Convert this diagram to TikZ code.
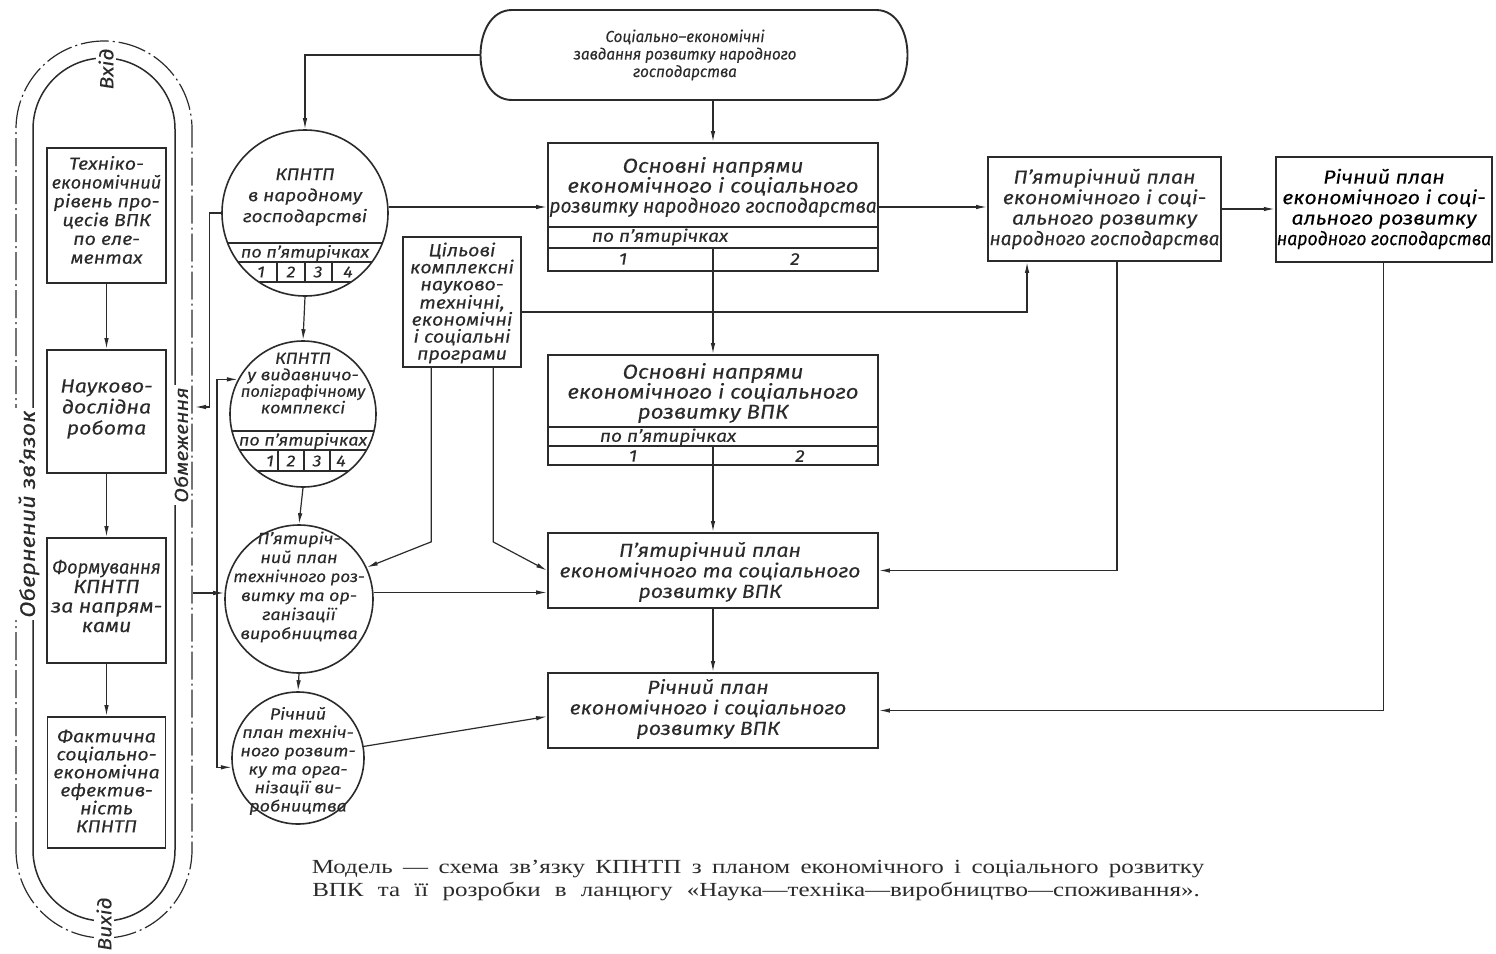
\documentclass[tikz,border=0pt]{standalone}
\usepackage{fontspec}
\usepackage{graphicx}
\setmainfont{Liberation Serif}
\newfontfamily\handfont{Fira Sans}[FakeStretch=1.12,FakeBold=0.15]
\usetikzlibrary{arrows.meta,calc}
\newcommand\hf[2]{\handfont\itshape\fontsize{#1}{#2}\selectfont}
\newcommand\sq[2]{\scalebox{#1}[1]{#2}}
\definecolor{ink}{HTML}{2B2B2B}
\begin{document}
\begin{tikzpicture}[x=1pt,y=-1pt,
  box/.style={draw=ink, line width=1.9pt, rectangle, inner sep=0pt},
  conn/.style={draw=ink, line width=1.2pt},
  arr/.style={-{Latex[length=11pt,width=4.5pt]}},
  rnd/.style={draw=ink, line width=1.6pt, circle, inner sep=0pt},
  lbl/.style={text=ink, align=center, inner sep=0pt},
  rowline/.style={draw=ink, line width=1.2pt},
  side/.style={lbl, rotate=90, fill=white, inner sep=2pt},
]
\fill[white] (0,0) rectangle (1496,953);
\useasboundingbox (0,0) rectangle (1496,953);

% ---------- left column frame ----------
\draw[ink, line width=1.2pt, dash pattern=on 28pt off 4pt on 2pt off 4pt]
  (16,850) -- (16,129) arc[start angle=180,end angle=0,radius=88pt]
  -- (192,850) arc[start angle=0,end angle=-180,radius=88pt];
\draw[ink, line width=1.5pt]
  (33,850) -- (33,129) arc[start angle=180,end angle=0,radius=71pt]
  -- (175,850) arc[start angle=0,end angle=-180,radius=71pt];
\node[side, font=\hf{19}{20}] (vin) at (106,69) {Вхід};
\node[side, font=\hf{19}{20}] (vout) at (104,924) {Вихід};
\node[side, font=\hf{21}{22}, inner ysep=6pt] (obz) at (29,514) {Обернений зв’язок};
\node[side, font=\hf{19}{20}] (obm) at (181,445) {Обмеження};

% ---------- left column boxes ----------
\node[box, minimum width=119pt, minimum height=135pt] (k1) at (106.5,215.5) {};
\node[lbl, font=\hf{17.5}{18.8}] at (106.5,210) {Техніко-\\\sq{0.93}{економічний}\\рівень про-\\цесів ВПК\\по еле-\\ментах};
\node[box, minimum width=119pt, minimum height=123pt] (k2) at (106.5,411.5) {};
\node[lbl, font=\hf{19}{21}] at (106.5,409) {Науково-\\дослідна\\робота};
\node[box, minimum width=119pt, minimum height=125pt] (k3) at (106.5,600.5) {};
\node[lbl, font=\hf{19}{19.5}] at (106.5,596) {\sq{0.86}{Формування}\\КПНТП\\за напрям-\\ками};
\node[box, minimum width=118pt, minimum height=131pt] (k4) at (106.5,782.5) {};
\node[lbl, font=\hf{17.5}{18}] at (106.5,781) {Фактична\\соціально-\\економічна\\ефектив-\\ність\\КПНТП};
\draw[conn,arr] (k1.south) -- (k2.north);
\draw[conn,arr] (k2.south) -- (k3.north);
\draw[conn,arr] (k3.south) -- (k4.north);

% ---------- top stadium ----------
\node[minimum width=428pt, minimum height=90pt, inner sep=0pt] (soc) at (694,55) {};
\draw[ink, line width=1.9pt] (512,10) -- (876,10) .. controls (918,10) and (918,100) .. (876,100)
  -- (512,100) .. controls (470,100) and (470,10) .. (512,10);
\node[lbl, font=\hf{16}{17.5}] at (685,55) {\sq{0.85}{Соціально–економічні}\\\sq{0.85}{завдання розвитку народного}\\\sq{0.85}{господарства}};

% ---------- circles ----------
\node[rnd, minimum size=166pt] (c1) at (305,213) {};
\begin{scope}
  \clip (305,213) circle[radius=83pt];
  \draw[rowline] (200,243) -- (410,243) (200,262) -- (410,262) (200,282) -- (410,282)
    (277,262) -- (277,282) (305,262) -- (305,282) (332,262) -- (332,282);
\end{scope}
\node[lbl, font=\hf{17}{21}] at (305,197) {КПНТП\\в народному\\господарстві};
\node[lbl, font=\hf{16}{17}] at (305,253) {по п’ятирічках};
\node[lbl, font=\hf{16}{17}] at (261,272) {1};
\node[lbl, font=\hf{16}{17}] at (291,272) {2};
\node[lbl, font=\hf{16}{17}] at (318,272) {3};
\node[lbl, font=\hf{16}{17}] at (348,272) {4};

\node[rnd, minimum size=146pt] (c2) at (303,414) {};
\begin{scope}
  \clip (303,414) circle[radius=73pt];
  \draw[rowline] (200,431) -- (410,431) (200,450) -- (410,450) (200,471) -- (410,471)
    (278,450) -- (278,471) (304,450) -- (304,471) (330,450) -- (330,471);
\end{scope}
\node[lbl, font=\hf{16}{16.5}] at (303,383) {КПНТП\\у видавничо-\\\sq{0.92}{поліграфічному}\\комплексі};
\node[lbl, font=\hf{16}{17}] at (303,441) {по п’ятирічках};
\node[lbl, font=\hf{16}{17}] at (270,461) {1};
\node[lbl, font=\hf{16}{17}] at (291,461) {2};
\node[lbl, font=\hf{16}{17}] at (317,461) {3};
\node[lbl, font=\hf{16}{17}] at (341,461) {4};

\node[rnd, minimum size=148pt] (c3) at (299,599) {};
\node[lbl, font=\hf{16}{19}] at (299,587) {П’ятиріч-\\ний план\\\sq{0.95}{технічного роз-}\\витку та ор-\\ганізації\\виробництва};

\node[rnd, minimum size=132pt] (c4) at (298,758) {};
\node[lbl, font=\hf{16}{18.4}] at (298,761) {Річний\\план техніч-\\ного розвит-\\ку та орга-\\нізації ви-\\робництва};

\draw[conn,arr] (c1.south) -- (c2.north);
\draw[conn,arr] (c2.south) -- (c3.north);
\draw[conn,arr] (c3.south) -- (c4.north);

% ---------- middle boxes ----------
\node[box, minimum width=330pt, minimum height=128pt] (A) at (713,207) {};
\draw[rowline] (548,227) -- (878,227) (548,248) -- (878,248) (713,248) -- (713,271);
\node[lbl, font=\hf{20}{20}] at (713,187) {Основні напрями\\економічного і соціального\\\sq{0.86}{розвитку народного господарства}};
\node[lbl, font=\hf{17}{18}] at (660,237) {по п’ятирічках};
\node[lbl, font=\hf{17}{18}] at (623,259) {1};
\node[lbl, font=\hf{17}{18}] at (795,259) {2};

\node[box, minimum width=330pt, minimum height=110pt] (A2) at (713,410) {};
\draw[rowline] (548,427) -- (878,427) (548,446) -- (878,446) (713,446) -- (713,465);
\node[lbl, font=\hf{20}{20}] at (713,393) {Основні напрями\\економічного і соціального\\розвитку ВПК};
\node[lbl, font=\hf{17}{18}] at (668,437) {по п’ятирічках};
\node[lbl, font=\hf{17}{18}] at (633,456) {1};
\node[lbl, font=\hf{17}{18}] at (800,456) {2};

\node[box, minimum width=330pt, minimum height=75pt] (E) at (713,570.5) {};
\node[lbl, font=\hf{19}{20.5}] at (710,572) {П’ятирічний план\\економічного та соціального\\розвитку ВПК};
\node[box, minimum width=330pt, minimum height=75pt] (F) at (713,710.5) {};
\node[lbl, font=\hf{19}{20.5}] at (708,709) {Річний план\\економічного і соціального\\розвитку ВПК};

\node[box, line width=1.7pt, minimum width=118pt, minimum height=130pt] (B) at (462,302) {};
\node[lbl, font=\hf{17.5}{17}] at (462,303) {Цільові\\комплексні\\науково-\\технічні,\\економічні\\і соціальні\\програми};

% ---------- right boxes ----------
\node[box, minimum width=233pt, minimum height=104pt] (C) at (1104.5,209) {};
\node[lbl, font=\hf{19}{20.5}] at (1104.5,209) {П’ятирічний план\\економічного і соці-\\ального розвитку\\\sq{0.89}{народного господарства}};
\node[box, line width=2.5pt, minimum width=216pt, minimum height=105pt] (D) at (1384,209.5) {};
\node[lbl, text=black, font=\hf{19}{20.5}] at (1384,209) {Річний план\\економічного і соці-\\ального розвитку\\\sq{0.83}{народного господарства}};

% ---------- connectors ----------
\coordinate (lim) at (195,407);
\coordinate (frm) at (193,593);
\coordinate (br) at (217,593);
\draw[conn,arr] (soc.west) -| (c1.north);
\draw[conn,arr] (A.north |- soc.south) -- (A.north);
\draw[conn,arr] (c1.east |- A.west) -- (A.west);
\draw[conn,arr] (A.east) -- (A.east -| C.west);
\draw[conn,arr] (C.east) -- (C.east -| D.west);
\draw[conn,arr] (A.south) -- (A2.north);
\draw[conn,arr] (A2.south) -- (E.north);
\draw[conn,arr] (E.south) -- (F.north);
\draw[conn,arr] ($(B.east)+(0,10)$) -| ($(C.south west)+(40,0)$);
\draw[conn,arr] ($(C.south west)+(130,0)$) |- (E.east);
\draw[conn,arr] ($(D.south west)+(109,0)$) |- (F.east);
\draw[conn,arr] ($(B.south west)+(29,0)$) -- ++(0,174) -- (c3.25);
\draw[conn,arr] ($(B.south west)+(91,0)$) -- ++(0,174) -- (E.west);
\draw[conn,arr] (c3.5) -- (c3.5 -| E.west);
\draw[conn,arr] (c4.10) -- ($(F.west)+(0,6)$);
\draw[conn,arr] (c1.west) -- ++(-12,0) |- (lim);
\draw[conn,arr] (frm) -- (frm -| c3.west);
\draw[conn,arr] (br) |- (c2.152);
\draw[conn,arr] (br) |- (c4.188);

% ---------- caption ----------
\node[text=ink, inner sep=0pt, font=\fontsize{20}{22}\selectfont] (cap1) at (758,869)
  {\scalebox{1.25}[1]{\makebox[714pt][s]{Модель — схема зв’язку КПНТП з планом економічного і соціального розвитку}}};
\node[text=ink, inner sep=0pt, font=\fontsize{20}{22}\selectfont] (cap2) at (756,891)
  {\scalebox{1.25}[1]{\makebox[710pt][s]{ВПК та її розробки в ланцюгу «Наука—техніка—виробництво—споживання».}}};
\end{tikzpicture}
\end{document}
